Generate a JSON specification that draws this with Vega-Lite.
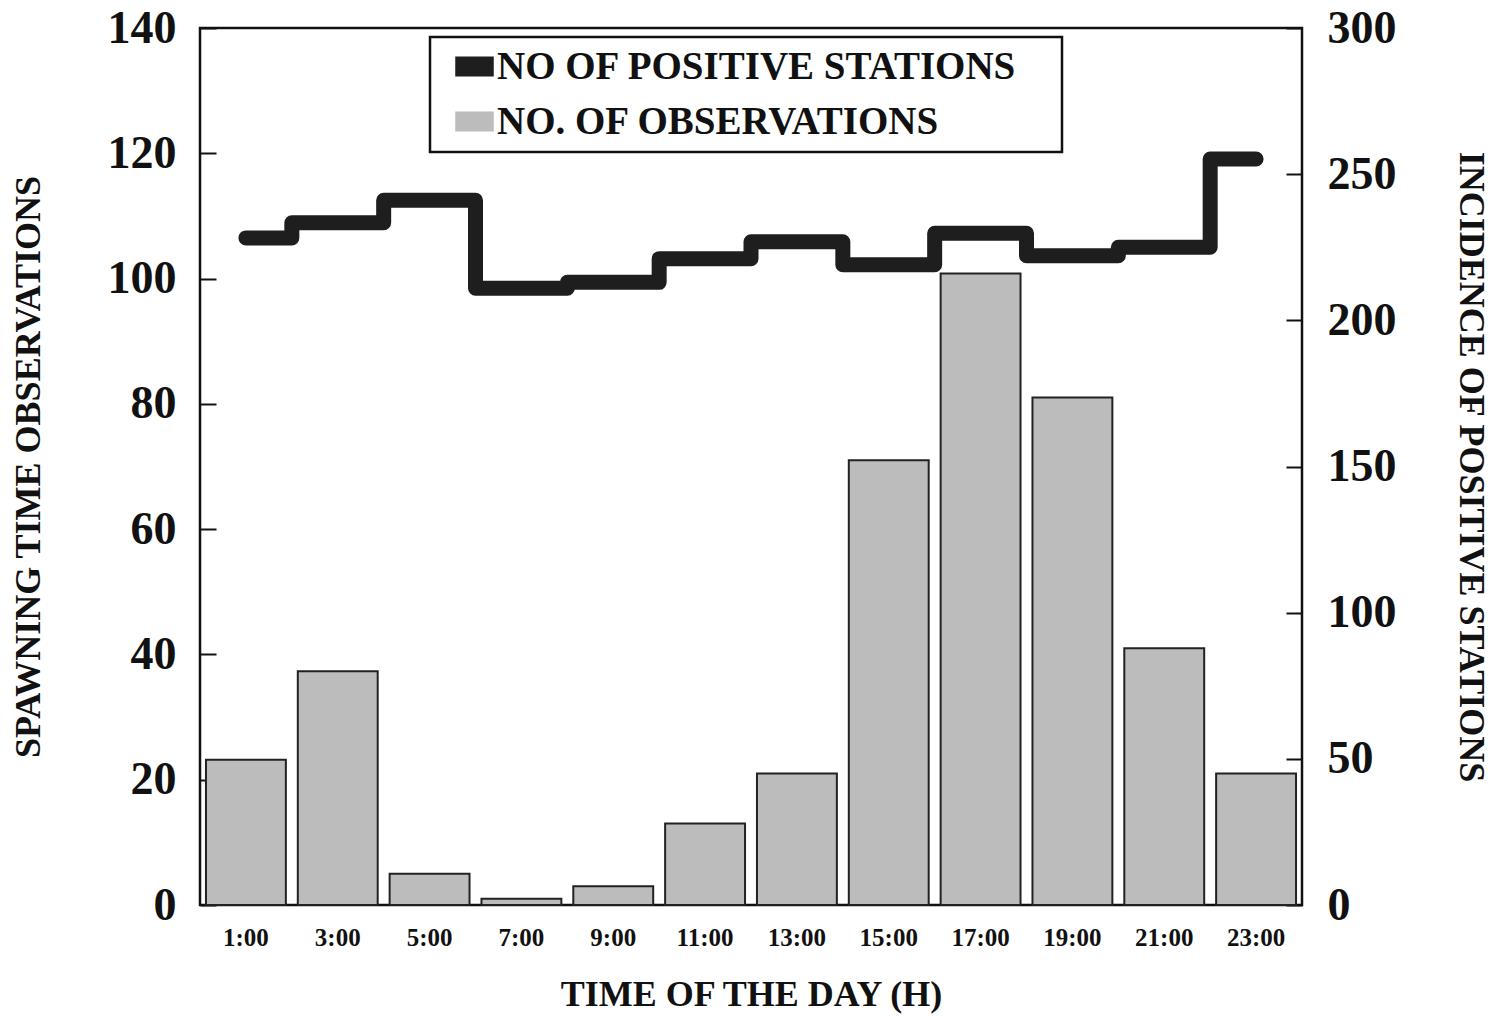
{
  "$schema": "https://vega.github.io/schema/vega-lite/v6.json",
  "autosize": {"type": "none"},
  "width": 1102,
  "height": 877,
  "padding": {"left": 200, "top": 28, "right": 190, "bottom": 111},
  "background": "white",
  "config": {
    "font": "Liberation Serif",
    "view": {"stroke": "#111", "strokeWidth": 2.5},
    "legend": {"strokeWidth": 2.5},
    "axis": {"grid": false, "domain": false, "labelFont": "Liberation Serif", "titleFont": "Liberation Serif", "labelFontWeight": "bold", "titleFontWeight": "bold", "labelColor": "#111", "titleColor": "#111", "tickColor": "#111"}
  },
  "data": {
    "values": [
      {"time": "1:00", "obs": 23.2, "stations": 228.2},
      {"time": "3:00", "obs": 37.3, "stations": 233.4},
      {"time": "5:00", "obs": 5.0, "stations": 241.1},
      {"time": "7:00", "obs": 1.0, "stations": 211.0},
      {"time": "9:00", "obs": 3.0, "stations": 213.0},
      {"time": "11:00", "obs": 13.0, "stations": 221.1},
      {"time": "13:00", "obs": 21.0, "stations": 226.9},
      {"time": "15:00", "obs": 71.0, "stations": 219.0},
      {"time": "17:00", "obs": 100.8, "stations": 229.8},
      {"time": "19:00", "obs": 81.0, "stations": 222.1},
      {"time": "21:00", "obs": 41.0, "stations": 225.0},
      {"time": "23:00", "obs": 21.0, "stations": 255.2}
    ]
  },
  "encoding": {
    "x": {
      "field": "time", "type": "ordinal", "sort": null,
      "scale": {"paddingInner": 0.13, "paddingOuter": 0.065},
      "axis": {"title": "TIME OF THE DAY (H)", "labelAngle": 0, "labelFontSize": 25, "titleFontSize": 36, "ticks": false, "labelPadding": 20, "titlePadding": 27}
    }
  },
  "layer": [
    {
      "mark": {"type": "bar", "fill": "#bcbcbc", "stroke": "#222", "strokeWidth": 2},
      "encoding": {
        "y": {
          "field": "obs", "type": "quantitative",
          "scale": {"domain": [0, 140], "nice": false},
          "axis": {"title": "SPAWNING TIME OBSERVATIONS", "values": [0, 20, 40, 60, 80, 100, 120, 140], "labelFontSize": 46, "titleFontSize": 36, "tickSize": -16, "tickWidth": 2, "labelPadding": 40, "titlePadding": 60, "labelBaseline": "middle"}
        },
        "color": {
          "datum": "NO. OF OBSERVATIONS",
          "scale": {"domain": ["NO OF POSITIVE STATIONS", "NO. OF OBSERVATIONS"], "range": ["#1e1e1e", "#bcbcbc"]},
          "legend": {
            "title": " ", "titleOrient": "right", "titlePadding": 35, "titleFontSize": 20,
            "orient": "none", "legendX": 230, "legendY": 9,
            "strokeColor": "#111", "fillColor": "white", "padding": 10,
            "symbolType": "M-1,-0.5H1V0.5H-1Z", "symbolSize": 1369, "symbolStrokeColor": "#1e1e1e", "symbolStrokeWidth": 1.5, "symbolOffset": 15,
            "labelFont": "Liberation Serif", "labelFontSize": 39, "labelFontWeight": "bold", "labelColor": "#111", "labelOffset": 3, "rowPadding": 15, "labelLimit": 800
          }
        }
      }
    },
    {
      "mark": {"type": "line", "interpolate": "step", "strokeWidth": 15, "strokeCap": "round", "strokeJoin": "round"},
      "encoding": {
        "y": {
          "field": "stations", "type": "quantitative",
          "scale": {"domain": [0, 300], "nice": false},
          "axis": {"orient": "right", "title": "INCIDENCE OF POSITIVE STATIONS", "values": [0, 50, 100, 150, 200, 250, 300], "labelFontSize": 46, "titleFontSize": 36, "tickSize": -16, "tickWidth": 2, "labelPadding": 41, "titlePadding": 55, "labelBaseline": "middle"}
        },
        "color": {"datum": "NO OF POSITIVE STATIONS"}
      }
    }
  ],
  "resolve": {"scale": {"y": "independent"}}
}
